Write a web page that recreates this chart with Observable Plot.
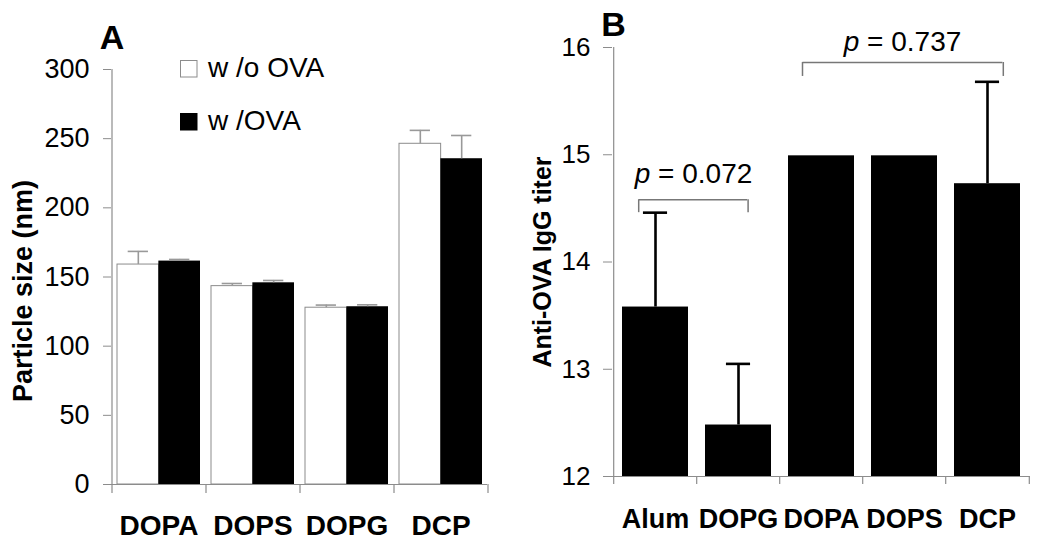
<!DOCTYPE html>
<html><head><meta charset="utf-8">
<script src="https://cdn.jsdelivr.net/npm/d3@7"></script>
<script src="https://cdn.jsdelivr.net/npm/@observablehq/plot@0.6"></script>
<style>
body{margin:0;background:#fff;}
#wrap{position:relative;width:1050px;height:552px;display:flex;font-family:"Liberation Sans",Arial,sans-serif;}
#wrap svg{flex:none;}
</style></head><body><div id="wrap"></div>
<script>
// ---------- data: panel A ----------
const lipidsA = ["DOPA", "DOPS", "DOPG", "DCP"];
const seriesA = ["w /o OVA", "w /OVA"];
const sizeWithout = [159, 143.4, 127.8, 246.3];
const sizeWithoutErr = [9.5, 1.9, 1.9, 9.7];
const sizeWith = [161.5, 145.8, 128.5, 235.5];
const sizeWithErr = [1.2, 1.7, 1.4, 16.8];
const ticksA = [0, 50, 100, 150, 200, 250, 300];
const labelA = "Particle size (nm)";

// ---------- data: panel B ----------
const groupsB = ["Alum", "DOPG", "DOPA", "DOPS", "DCP"];
const titerB = [13.58, 12.48, 14.99, 14.99, 14.73];
const titerErrB = [0.88, 0.57, 0, 0, 0.95];
const ticksB = [12, 13, 14, 15, 16];
const labelB = "Anti-OVA IgG titer";
const pLabels = ["p = 0.072", "p = 0.737"];
const bracketFrom = ["Alum", "DOPA"];
const bracketTo = ["DOPG", "DCP"];
const bracketTop = [14.58, 15.86];
const bracketLeg = [14.46, 15.73];
const pLabelY = [14.74, 15.97];

// ---------- layout / style ----------
const FONT = "Liberation Sans, Arial, sans-serif";
const GRAY = "#8c8c8c";
const A = {w: 520, h: 552, ml: 111, mr: 33, mt: 69, mb: 68, pi: 0.12};
const B = {w: 530, h: 552, ml: 92, mr: 20, mt: 47, mb: 76, pi: 0.2};
const bracketStyle = [
  {insL: 16.6, insR: 23.8, dxL: -16.8, dxR: 9.6, anchor: "Alum", dxT: 38},
  {insL: 14.4, insR: 17.6, dxL: -19, dxR: 15.8, anchor: "DOPS", dxT: -2}
];

const wrap = document.getElementById("wrap");

// ---------- Panel A ----------
{
  const stepA = (A.w - A.ml - A.mr) / lipidsA.length;
  const bw = stepA * (1 - A.pi);
  const half = bw / 2;
  const capW = 20;
  const pxPerUnit = (A.h - A.mt - A.mb) / (ticksA[ticksA.length - 1] - ticksA[0]);
  const tickLen = 9 / pxPerUnit;
  const rowsW = lipidsA.map((c, i) => ({c, v: sizeWithout[i], e: sizeWithoutErr[i]}));
  const rowsB = lipidsA.map((c, i) => ({c, v: sizeWith[i], e: sizeWithErr[i]}));
  const svgA = Plot.plot({
    width: A.w, height: A.h,
    marginLeft: A.ml, marginRight: A.mr, marginTop: A.mt, marginBottom: A.mb,
    style: {fontFamily: FONT, fontSize: "27px", color: "black", background: "white"},
    x: {type: "band", domain: lipidsA, paddingInner: A.pi, paddingOuter: A.pi / 2},
    y: {domain: [ticksA[0], ticksA[ticksA.length - 1]]},
    marks: [
      Plot.barY(rowsW, {x: "c", y: "v", fill: "white", stroke: GRAY, strokeWidth: 1, insetRight: half}),
      Plot.barY(rowsB, {x: "c", y: "v", fill: "black", insetLeft: half}),
      Plot.ruleX(rowsW, {x: "c", y1: "v", y2: d => d.v + d.e, stroke: "#999", strokeWidth: 1.6, dx: -half / 2}),
      Plot.tickY(rowsW, {x: "c", y: d => d.v + d.e, stroke: "#999", strokeWidth: 1.6, insetLeft: half / 2 - capW / 2, insetRight: bw - half / 2 - capW / 2}),
      Plot.ruleX(rowsB, {x: "c", y1: "v", y2: d => d.v + d.e, stroke: "#999", strokeWidth: 1.6, dx: half / 2}),
      Plot.tickY(rowsB, {x: "c", y: d => d.v + d.e, stroke: "#999", strokeWidth: 1.6, insetLeft: half + half / 2 - capW / 2, insetRight: half / 2 - capW / 2}),
      Plot.ruleY([ticksA[0]], {stroke: GRAY, strokeWidth: 1.2}),
      Plot.ruleX([lipidsA[0]], {x: d => d, y1: ticksA[0], y2: ticksA[ticksA.length - 1], stroke: GRAY, strokeWidth: 1.2, dx: -stepA / 2}),
      Plot.ruleX(lipidsA, {x: d => d, y1: ticksA[0], y2: ticksA[0] - tickLen, stroke: GRAY, strokeWidth: 1.2, dx: -stepA / 2}),
      Plot.ruleX([lipidsA[lipidsA.length - 1]], {x: d => d, y1: ticksA[0], y2: ticksA[0] - tickLen, stroke: GRAY, strokeWidth: 1.2, dx: stepA / 2}),
      Plot.axisY({ticks: ticksA, tickFormat: d3.format("d"), tickSize: 8, tickPadding: 14, stroke: GRAY, fill: "black", fontSize: 27, label: null}),
      Plot.axisX({tickSize: 0, tickPadding: 31, fontSize: 28, fontWeight: "bold", fill: "black", label: null}),
      Plot.text(["A"], {text: d => d, frameAnchor: "top-left", textAnchor: "middle", lineAnchor: "bottom", dx: 0.5, dy: -21, fontSize: 34, fontWeight: "bold"}),
      Plot.text([labelA], {text: d => d, frameAnchor: "left", textAnchor: "middle", rotate: -90, dx: -88.5, dy: 14, fontSize: 27, fontWeight: "bold"})
    ]
  });
  wrap.append(svgA);
}

// ---------- Panel B ----------
{
  const stepB = (B.w - B.ml - B.mr) / groupsB.length;
  const bw = stepB * (1 - B.pi);
  const capW = 25;
  const y0 = ticksB[0], y1 = ticksB[ticksB.length - 1];
  const pxPerUnit = (B.h - B.mt - B.mb) / (y1 - y0);
  const tickLen = 8 / pxPerUnit;
  const rows = groupsB.map((c, i) => ({c, v: titerB[i], e: titerErrB[i]}));
  const errRows = rows.filter(d => d.e > 0);
  const bracketMarks = [];
  pLabels.forEach((lab, i) => {
    const s = bracketStyle[i];
    const d = [{from: bracketFrom[i], to: bracketTo[i], top: bracketTop[i], leg: bracketLeg[i], lab, ly: pLabelY[i], anchor: s.anchor}];
    bracketMarks.push(
      Plot.ruleY(d, {x1: "from", x2: "to", y: "top", stroke: "#777", strokeWidth: 1.5, insetLeft: s.insL, insetRight: s.insR}),
      Plot.ruleX(d, {x: "from", y1: "leg", y2: "top", stroke: "#777", strokeWidth: 1.5, dx: s.dxL}),
      Plot.ruleX(d, {x: "to", y1: "leg", y2: "top", stroke: "#777", strokeWidth: 1.5, dx: s.dxR}),
      Plot.text(d, {x: "anchor", y: "ly", text: "lab", dx: s.dxT, lineAnchor: "bottom", fontSize: 28})
    );
  });
  const svgB = Plot.plot({
    width: B.w, height: B.h,
    marginLeft: B.ml, marginRight: B.mr, marginTop: B.mt, marginBottom: B.mb,
    style: {fontFamily: FONT, fontSize: "27px", color: "black", background: "white", overflow: "visible"},
    x: {type: "band", domain: groupsB, paddingInner: B.pi, paddingOuter: B.pi / 2},
    y: {domain: [y0, y1]},
    marks: [
      Plot.barY(rows, {x: "c", y1: y0, y2: "v", fill: "black"}),
      Plot.ruleX(errRows, {x: "c", y1: "v", y2: d => d.v + d.e, stroke: "black", strokeWidth: 2.6}),
      Plot.tickY(errRows, {x: "c", y: d => d.v + d.e, stroke: "black", strokeWidth: 2.6, inset: (bw - capW) / 2}),
      Plot.ruleY([y0], {stroke: GRAY, strokeWidth: 1.2}),
      Plot.ruleX([groupsB[0]], {x: d => d, y1: y0, y2: y1, stroke: GRAY, strokeWidth: 1.2, dx: -stepB / 2}),
      Plot.ruleX(groupsB, {x: d => d, y1: y0, y2: y0 - tickLen, stroke: GRAY, strokeWidth: 1.2, dx: -stepB / 2}),
      Plot.ruleX([groupsB[groupsB.length - 1]], {x: d => d, y1: y0, y2: y0 - tickLen, stroke: GRAY, strokeWidth: 1.2, dx: stepB / 2}),
      ...bracketMarks,
      Plot.axisY({ticks: ticksB, tickFormat: d3.format("d"), tickSize: 9, tickPadding: 13, stroke: GRAY, fill: "black", fontSize: 26, label: null}),
      Plot.axisX({tickSize: 0, tickPadding: 32, fontSize: 27, fontWeight: "bold", fill: "black", label: null}),
      Plot.text(["B"], {text: d => d, frameAnchor: "top-left", textAnchor: "middle", lineAnchor: "bottom", dx: 1, dy: -12, fontSize: 34, fontWeight: "bold"}),
      Plot.text([labelB], {text: d => d, frameAnchor: "left", textAnchor: "middle", rotate: -90, dx: -69.5, fontSize: 25, fontWeight: "bold"})
    ]
  });
  // italic "p"
  const ns = "http://www.w3.org/2000/svg";
  svgB.querySelectorAll("text").forEach(t => {
    const s = t.textContent;
    if (pLabels.includes(s)) {
      t.textContent = "";
      const a = document.createElementNS(ns, "tspan");
      a.setAttribute("font-style", "italic");
      a.textContent = s.slice(0, 1);
      const b = document.createElementNS(ns, "tspan");
      b.textContent = s.slice(1);
      t.append(a, b);
    }
  });
  wrap.append(svgB);
}

// ---------- legend (panel A) ----------
{
  const leg = d3.select(wrap).append("svg")
    .attr("width", 520).attr("height", 150)
    .style("position", "absolute").style("left", "0px").style("top", "0px")
    .style("font-family", FONT);
  const fills = ["white", "black"];
  const tops = [60, 113];
  seriesA.forEach((s, i) => {
    leg.append("rect").attr("x", 180.5).attr("y", tops[i] + 0.5).attr("width", 16.5).attr("height", 16.5)
      .attr("fill", fills[i]).attr("stroke", i === 0 ? GRAY : "black").attr("stroke-width", 1);
    leg.append("text").attr("x", 208).attr("y", tops[i] + 17).attr("font-size", 28).text(s);
  });
}
</script>
</body></html>
